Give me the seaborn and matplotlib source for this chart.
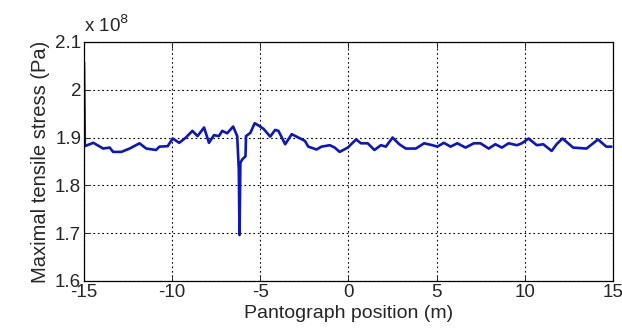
import matplotlib
matplotlib.use("Agg")
import matplotlib.pyplot as plt
import seaborn as sns
import pandas as pd

# Pantograph position along the span (m)
position = [
    -15.0, -14.95, -14.47, -13.91, -13.54, -13.35, -12.88, -12.41, -11.85, -11.47,
    -10.91, -10.72, -10.25, -9.97, -9.60, -9.22, -8.85, -8.56, -8.19, -7.91,
    -7.63, -7.35, -7.16, -6.88, -6.54, -6.31, -6.22, -6.18, -6.13, -6.03,
    -5.84, -5.81, -5.56, -5.32, -5.09, -4.81, -4.44, -4.16, -3.97, -3.59,
    -3.22, -2.84, -2.47, -2.28, -1.81, -1.53, -1.06, -0.78, -0.50, -0.04,
    0.43, 0.71, 1.09, 1.47, 1.84, 2.12, 2.50, 2.88, 3.25, 3.82,
    4.29, 4.76, 5.04, 5.41, 5.79, 6.17, 6.64, 7.11, 7.48, 7.95,
    8.33, 8.70, 9.08, 9.55, 9.83, 10.21, 10.68, 11.05, 11.52, 11.80,
    12.14, 12.74, 13.50, 14.15, 14.62, 14.91,
]

# Maximal tensile stress (x 1e8 Pa)
stress = [
    2.058, 1.882, 1.889, 1.877, 1.879, 1.870, 1.870, 1.877, 1.888, 1.877,
    1.874, 1.881, 1.882, 1.898, 1.889, 1.900, 1.914, 1.903, 1.921, 1.889,
    1.905, 1.903, 1.914, 1.909, 1.923, 1.903, 1.833, 1.696, 1.847, 1.854,
    1.861, 1.903, 1.910, 1.930, 1.925, 1.918, 1.902, 1.916, 1.914, 1.886,
    1.907, 1.900, 1.893, 1.881, 1.875, 1.881, 1.884, 1.879, 1.870, 1.879,
    1.896, 1.888, 1.888, 1.874, 1.884, 1.881, 1.900, 1.886, 1.877, 1.877,
    1.888, 1.884, 1.881, 1.889, 1.881, 1.888, 1.879, 1.888, 1.888, 1.877,
    1.886, 1.879, 1.888, 1.884, 1.888, 1.898, 1.884, 1.886, 1.872, 1.886,
    1.898, 1.879, 1.877, 1.896, 1.881, 1.881,
]

x_ticks = [-15, -10, -5, 0, 5, 10, 15]
y_ticks = [1.6, 1.7, 1.8, 1.9, 2.0, 2.1]
y_tick_labels = ["1.6", "1.7", "1.8", "1.9", "2", "2.1"]

df = pd.DataFrame({"position": position, "stress": stress})

sns.set_style("white")
plt.rcParams["font.family"] = ["Liberation Sans", "DejaVu Sans"]

fig = plt.figure(figsize=(6.22, 3.29), dpi=100)
ax = fig.add_axes([0.135, 0.146, 0.8505, 0.7265])

sns.lineplot(data=df, x="position", y="stress", ax=ax, color="#0a14c8",
             linewidth=1.9, sort=False, estimator=None)

ax.set_xlim(-15, 15)
ax.set_ylim(1.6, 2.1)
ax.set_xticks(x_ticks)
ax.set_xticklabels([str(t) for t in x_ticks])
ax.set_yticks(y_ticks)
ax.set_yticklabels(y_tick_labels)

ax.grid(True, color="black", linestyle=(0, (1.5, 2.5)), linewidth=0.8)
ax.tick_params(direction="in", length=4, width=0.7, labelsize=13.5,
               top=True, right=True, bottom=True, left=True, pad=2)
for spine in ax.spines.values():
    spine.set_color("black")
    spine.set_linewidth(0.9)

ax.set_xlabel("Pantograph position (m)", fontsize=14, labelpad=3)
ax.set_ylabel("Maximal tensile stress (Pa)", fontsize=14.5, labelpad=4)
ax.text(0.0, 1.025, r"x 10$^{8}$", transform=ax.transAxes, fontsize=13.5,
        ha="left", va="bottom")

fig.savefig("out.png", dpi=100)
